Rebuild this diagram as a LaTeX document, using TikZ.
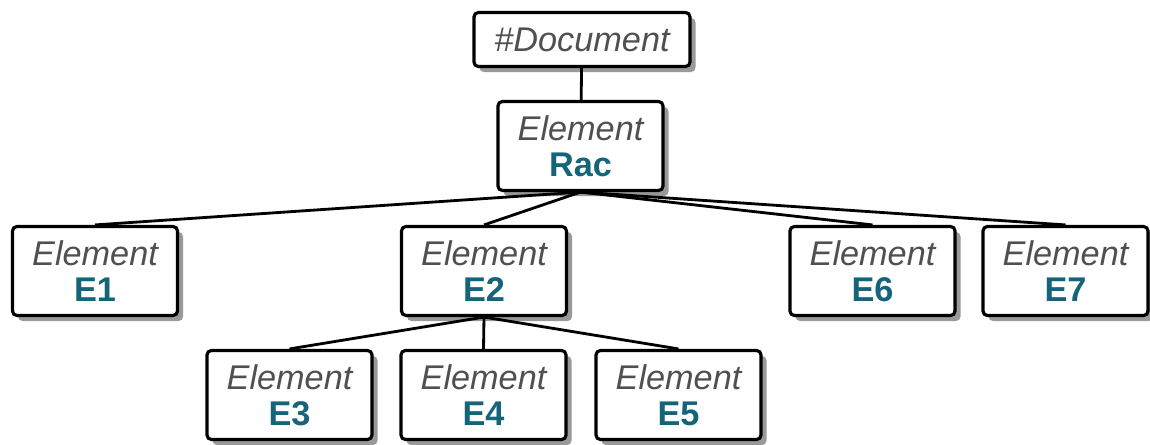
\documentclass[tikz,border=0pt]{standalone}
\usepackage{fontspec}
\setsansfont{Liberation Sans}
\usepackage{xcolor}
\usepackage{tikz}
\usetikzlibrary{shadows}

\definecolor{eltgray}{RGB}{80,80,80}
\definecolor{eltteal}{RGB}{20,100,122}
\newcommand{\eltlabel}[1]{{\color{eltgray}\itshape Element}\\{\color{eltteal}\bfseries #1}}

\begin{document}
\begin{tikzpicture}[
      box/.style={draw, line width=1.8pt, rounded corners=2.5pt, fill=white, align=center,
                  font=\sffamily\fontsize{19.5}{20.5}\selectfont, inner sep=2pt,
                  minimum width=3.3cm, minimum height=1.78cm,
                  drop shadow={shadow xshift=1.1mm, shadow yshift=-1.1mm, fill=black!40, opacity=1}},
      docbox/.style={box, minimum width=4.32cm, minimum height=1.08cm},
      ln/.style={line width=1.6pt}
    ]
    \useasboundingbox (0,0) rectangle (23,-8.88);
    % tree
    \node[docbox] (doc) at (11.64,-0.79) {{\color{eltgray}\itshape \#Document}};
    \node[box]    (rac) at (11.61,-2.92) {\eltlabel{Rac}};
    \node[box]    (e1)  at (1.90,-5.42)  {\eltlabel{E1}};
    \node[box]    (e2)  at (9.68,-5.42)  {\eltlabel{E2}};
    \node[box]    (e6)  at (17.45,-5.42) {\eltlabel{E6}};
    \node[box]    (e7)  at (21.31,-5.42) {\eltlabel{E7}};
    \node[box]    (e3)  at (5.79,-7.90)  {\eltlabel{E3}};
    \node[box]    (e4)  at (9.67,-7.90)  {\eltlabel{E4}};
    \node[box]    (e5)  at (13.57,-7.90) {\eltlabel{E5}};
    \draw[ln] (doc) -- (rac);
    \draw[ln] (rac.south) -- (e1.north);
    \draw[ln] (rac.south) -- (e2.north);
    \draw[ln] (rac.south) -- (e6.north);
    \draw[ln] (rac.south) -- (e7.north);
    \draw[ln] (e2.south) -- (e3.north);
    \draw[ln] (e2.south) -- (e4.north);
    \draw[ln] (e2.south) -- (e5.north);
  \end{tikzpicture}
\end{document}
